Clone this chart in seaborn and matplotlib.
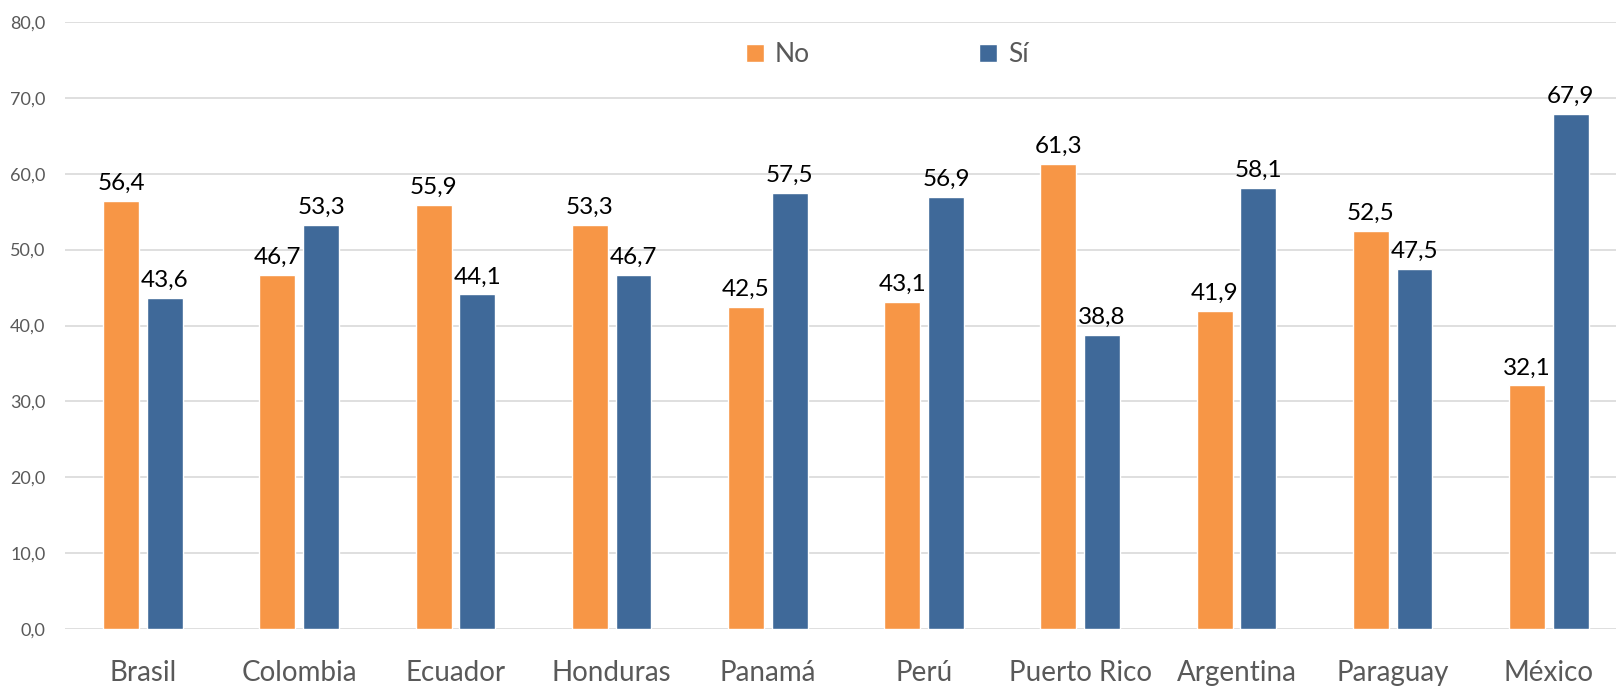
import pandas as pd
import matplotlib
matplotlib.use("Agg")
import matplotlib.pyplot as plt
import seaborn as sns

# Data
paises = ["Brasil", "Colombia", "Ecuador", "Honduras", "Panamá",
          "Perú", "Puerto Rico", "Argentina", "Paraguay", "México"]
valores_no = [56.4, 46.7, 55.9, 53.3, 42.5, 43.1, 61.3, 41.9, 52.5, 32.1]
valores_si = [43.6, 53.3, 44.1, 46.7, 57.5, 56.9, 38.8, 58.1, 47.5, 67.9]
series = ["No", "Sí"]
colores = ["#F79646", "#3F6999"]

df = pd.DataFrame({
    "Pais": paises * 2,
    "Respuesta": ["No"] * len(paises) + ["Sí"] * len(paises),
    "Valor": valores_no + valores_si,
})

sns.set_style("white")
plt.rcParams["font.family"] = ["Lato", "DejaVu Sans"]

fig = plt.figure(figsize=(16.16, 6.93), dpi=100)
ax = fig.add_axes([65 / 1616, 1 - 629 / 693, (1616 - 65) / 1616, (629 - 22) / 693])

sns.barplot(
    data=df, x="Pais", y="Valor", hue="Respuesta",
    hue_order=series, palette=colores, saturation=1,
    width=0.56, gap=0.18, ax=ax, legend=True,
)

# Data labels
for cont in ax.containers:
    ax.bar_label(
        cont,
        labels=[f"{v:.1f}".replace(".", ",") for v in cont.datavalues],
        padding=5, fontsize=17.5, color="#000000",
    )

ax.set_ylim(0, 80)
ax.set_xlim(-0.5, 9.43)
ax.set_yticks(range(0, 81, 10))
ax.set_yticklabels([f"{v:.1f}".replace(".", ",") for v in range(0, 81, 10)])
ax.yaxis.grid(True, color="#D9D9D9", linewidth=1.2)
ax.set_axisbelow(True)
for s in ax.spines.values():
    s.set_visible(False)
ax.tick_params(axis="y", length=0, labelsize=13, labelcolor="#595959", pad=14)
ax.tick_params(axis="x", length=0, labelsize=20, labelcolor="#595959", pad=22)
ax.set_xlabel("")
ax.set_ylabel("")

leg = ax.legend(
    loc="center", bbox_to_anchor=(0.53, 0.946), ncol=2, frameon=False,
    fontsize=19, handlelength=0.7, handleheight=0.7, handletextpad=0.4,
    columnspacing=6.4,
)
for t in leg.get_texts():
    t.set_color("#595959")

plt.savefig("out.png", dpi=100)
